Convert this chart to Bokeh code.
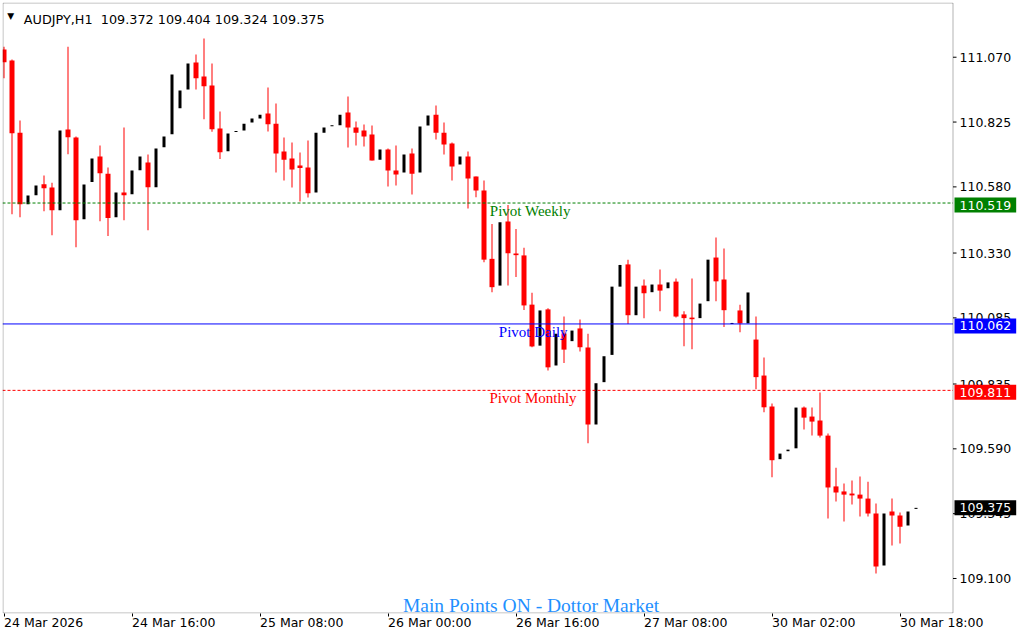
from bokeh.plotting import figure
from bokeh.models import Range1d, FixedTicker, Label, ColumnDataSource, BoxAnnotation
from bokeh.core.properties import value
from bokeh.embed import file_html
from bokeh.resources import INLINE

# ---------------- data ----------------
symbol = "AUDJPY,H1"
header_ohlc = ["109.372", "109.404", "109.324", "109.375"]

opens = [111.099, 111.058, 110.785, 110.514, 110.548, 110.590, 110.578, 110.492, 110.797, 110.767,
         110.458, 110.598, 110.695, 110.630, 110.465, 110.559, 110.552, 110.643, 110.672, 110.579,
         110.730, 110.779, 110.877, 110.948, 111.050, 110.997, 110.963, 110.801, 110.715, 110.787,
         110.793, 110.823, 110.838, 110.857, 110.819, 110.714, 110.687, 110.661, 110.653, 110.559,
         110.785, 110.809, 110.813, 110.861, 110.804, 110.793, 110.778, 110.683, 110.721, 110.642,
         110.634, 110.706, 110.634, 110.812, 110.853, 110.785, 110.744, 110.665, 110.695, 110.619,
         110.566, 110.308, 110.207, 110.449, 110.328, 110.321, 110.135, 109.980, 110.117, 109.905,
         110.026, 109.997, 110.045, 109.973, 109.682, 109.842, 109.945, 110.203, 110.287, 110.095,
         110.207, 110.182, 110.211, 110.197, 110.222, 110.098, 110.086, 110.084, 110.148, 110.313,
         110.230, 110.062, 110.113, 110.064, 110.003, 109.867, 109.750, 109.551, 109.581, 109.592,
         109.746, 109.712, 109.697, 109.640, 109.448, 109.429, 109.421, 109.417, 109.402, 109.346,
         109.149, 109.353, 109.338, 109.300, 109.363]
highs = [111.110, 111.061, 110.831, 110.547, 110.585, 110.623, 110.596, 110.793, 111.110, 110.770,
         110.589, 110.687, 110.736, 110.653, 110.559, 110.804, 110.642, 110.695, 110.702, 110.725,
         110.770, 111.005, 110.944, 111.046, 111.080, 111.141, 111.046, 110.865, 110.782, 110.790,
         110.819, 110.838, 110.853, 110.956, 110.895, 110.767, 110.748, 110.710, 110.755, 110.785,
         110.804, 110.813, 110.853, 110.922, 110.827, 110.816, 110.812, 110.721, 110.725, 110.736,
         110.702, 110.725, 110.808, 110.850, 110.888, 110.823, 110.748, 110.695, 110.714, 110.619,
         110.604, 110.440, 110.446, 110.512, 110.421, 110.350, 110.180, 110.113, 110.121, 110.025,
         110.090, 110.037, 110.079, 110.025, 109.838, 109.940, 110.203, 110.285, 110.305, 110.203,
         110.230, 110.211, 110.268, 110.219, 110.234, 110.110, 110.234, 110.139, 110.305, 110.389,
         110.347, 110.064, 110.135, 110.181, 110.090, 109.935, 109.761, 109.572, 109.587, 109.746,
         109.750, 109.746, 109.803, 109.648, 109.519, 109.459, 109.470, 109.485, 109.466, 109.383,
         109.346, 109.402, 109.349, 109.353, 109.367]
lows = [110.991, 110.477, 110.465, 110.514, 110.548, 110.488, 110.397, 110.492, 110.703, 110.352,
        110.458, 110.598, 110.450, 110.394, 110.465, 110.454, 110.552, 110.643, 110.416, 110.579,
        110.730, 110.779, 110.877, 110.948, 110.948, 110.836, 110.788, 110.685, 110.715, 110.787,
        110.793, 110.823, 110.838, 110.789, 110.634, 110.604, 110.578, 110.525, 110.540, 110.559,
        110.785, 110.809, 110.813, 110.729, 110.736, 110.733, 110.680, 110.683, 110.581, 110.585,
        110.634, 110.551, 110.634, 110.812, 110.759, 110.702, 110.604, 110.665, 110.498, 110.541,
        110.295, 110.182, 110.207, 110.207, 110.239, 110.115, 109.974, 109.980, 109.886, 109.905,
        109.914, 109.997, 109.958, 109.611, 109.682, 109.842, 109.945, 110.203, 110.062, 110.095,
        110.084, 110.182, 110.110, 110.197, 110.086, 109.978, 109.966, 110.084, 110.148, 110.148,
        110.050, 110.062, 110.031, 110.064, 109.815, 109.728, 109.483, 109.551, 109.581, 109.592,
        109.663, 109.640, 109.633, 109.327, 109.391, 109.315, 109.380, 109.334, 109.334, 109.119,
        109.149, 109.225, 109.232, 109.300, 109.363]
closes = [111.051, 110.783, 110.514, 110.547, 110.585, 110.575, 110.492, 110.793, 110.768, 110.454,
          110.589, 110.687, 110.632, 110.462, 110.559, 110.548, 110.642, 110.695, 110.579, 110.725,
          110.770, 111.005, 110.944, 111.046, 110.991, 110.960, 110.798, 110.711, 110.782, 110.790,
          110.819, 110.838, 110.853, 110.817, 110.706, 110.683, 110.646, 110.651, 110.556, 110.785,
          110.804, 110.813, 110.853, 110.804, 110.785, 110.770, 110.680, 110.721, 110.642, 110.627,
          110.702, 110.630, 110.808, 110.850, 110.785, 110.740, 110.657, 110.695, 110.612, 110.566,
          110.305, 110.201, 110.446, 110.329, 110.322, 110.132, 109.977, 110.113, 109.898, 110.025,
          109.965, 110.037, 109.974, 109.682, 109.838, 109.940, 110.203, 110.285, 110.095, 110.203,
          110.178, 110.211, 110.188, 110.219, 110.090, 110.084, 110.080, 110.139, 110.305, 110.223,
          110.114, 110.064, 110.064, 110.181, 109.861, 109.747, 109.547, 109.572, 109.587, 109.746,
          109.708, 109.693, 109.640, 109.444, 109.425, 109.417, 109.414, 109.402, 109.346, 109.145,
          109.346, 109.338, 109.296, 109.353, 109.367]

price_ticks = [111.070, 110.825, 110.580, 110.330, 110.085, 109.835, 109.590, 109.345, 109.100]
time_tick_index = [0, 16, 32, 48, 64, 80, 96, 112]
time_tick_labels = ["24 Mar 2026", "24 Mar 16:00", "25 Mar 08:00", "26 Mar 00:00",
                    "26 Mar 16:00", "27 Mar 08:00", "30 Mar 02:00", "30 Mar 18:00"]

pivot_names = ["Pivot Weekly", "Pivot Daily", "Pivot Monthly"]
pivot_values = [110.519, 110.062, 109.811]
current_price = 109.375
footer_text = "Main Points ON - Dottor Market"

# ---------------- layout / style ----------------
W, H = 1024, 640
BL, BT, BR, BB = 2, 2, 0, 27
FRAME_W, FRAME_H = W - BL - BR, H - BT - BB
BAR_PX = 8.0
PX_PER_UNIT = 264.6
FIRST_BAR_PX = 3.5
CHART_RIGHT_PX = 952.5
CHART_BOTTOM_PX = 612.5
XS = (BL - FIRST_BAR_PX) / BAR_PX
XE = XS + FRAME_W / BAR_PX
YMIN = 108.9677
YMAX = YMIN + FRAME_H / PX_PER_UNIT


def dx(px):
    return XS + (px - BL) / BAR_PX


def dy(py):
    return YMAX - (py - BT) / PX_PER_UNIT


pivot_colors = ["#008000", "#0000FF", "#FF0000"]
pivot_dash = ["3 2", "solid", "3 2"]
pivot_label_px = [489.3, 498.3, 489.0]
UI_FONT = "DejaVu Sans"
UI_SIZE = "12.5px"

idx = list(range(len(opens)))
min_body = 1.0 / PX_PER_UNIT
red = dict(x=[], top=[], bottom=[], hi=[], lo=[])
blk = dict(x=[], top=[], bottom=[])
for i, o, h, l, c in zip(idx, opens, highs, lows, closes):
    if c < o:
        red["x"].append(i)
        red["top"].append(o)
        red["bottom"].append(min(c, o - min_body))
        red["hi"].append(h)
        red["lo"].append(l)
    else:
        blk["x"].append(i)
        blk["top"].append(max(h, c, l + min_body))
        blk["bottom"].append(min(l, o))

p = figure(width=W, height=H, x_range=Range1d(XS, XE), y_range=Range1d(YMIN, YMAX),
           output_backend="svg", toolbar_location=None, y_axis_location=None,
           min_border_left=BL, min_border_right=BR, min_border_top=BT, min_border_bottom=BB,
           background_fill_color="white", border_fill_color="white",
           outline_line_color=None)
p.grid.visible = False

# x axis: ticks and left-aligned labels
p.xaxis.ticker = FixedTicker(ticks=time_tick_index)
p.xaxis.major_label_overrides = {k: lab for k, lab in zip(time_tick_index, time_tick_labels)}
p.xaxis.major_label_orientation = -0.0001
p.xaxis.major_tick_out = 3
p.xaxis.major_tick_in = 0
p.xaxis.minor_tick_line_color = None
p.xaxis.axis_line_color = None
p.xaxis.major_tick_line_color = "black"
p.xaxis.major_label_standoff = 6
p.xaxis.major_label_text_font = UI_FONT
p.xaxis.major_label_text_font_size = UI_SIZE
p.xaxis.major_label_text_color = "black"

# chart border
p.add_layout(BoxAnnotation(left=dx(BL + 0.5), right=dx(CHART_RIGHT_PX), top=dy(BT + 0.5),
                           bottom=dy(CHART_BOTTOM_PX), fill_alpha=0, line_color="black",
                           line_width=1, level="overlay"))

# candles
rs = ColumnDataSource(red)
bs = ColumnDataSource(blk)
p.vbar(x="x", width=1 / BAR_PX, top="hi", bottom="lo", source=rs, fill_color="#FF0000", line_color=None)
p.vbar(x="x", width=5 / BAR_PX, top="top", bottom="bottom", source=rs,
       fill_color="#FF0000", line_color=None)
p.vbar(x="x", width=3 / BAR_PX, top="top", bottom="bottom", source=bs,
       fill_color="black", line_color=None)

# price scale on the right
p.segment(x0=[dx(CHART_RIGHT_PX)] * len(price_ticks), x1=[dx(CHART_RIGHT_PX + 3.5)] * len(price_ticks),
          y0=price_ticks, y1=price_ticks, line_color="black", line_width=1)
p.text(x=[dx(959)] * len(price_ticks), y=price_ticks, text=[f"{t:.3f}" for t in price_ticks],
       text_align="left", text_baseline="middle", text_font=value(UI_FONT),
       text_font_size=UI_SIZE, text_color="black")

# pivot lines and labels
for name, val, col, dash, lx in zip(pivot_names, pivot_values, pivot_colors, pivot_dash, pivot_label_px):
    p.segment(x0=[dx(BL)], x1=[dx(CHART_RIGHT_PX)], y0=[val], y1=[val],
              line_color=col, line_width=1, line_dash=dash)
    p.add_layout(Label(x=dx(lx), y=val, text=name, text_align="left", text_baseline="top",
                       text_font="Liberation Serif", text_font_size="15px", text_color=col))

# price boxes on the scale
box_vals = pivot_values + [current_price]
box_cols = pivot_colors + ["#000000"]
for val, col in zip(box_vals, box_cols):
    p.add_layout(Label(x=dx(954), y=val - 2.0 / PX_PER_UNIT, text=f"{val:.3f}",
                       text_align="left", text_baseline="middle",
                       text_font=UI_FONT, text_font_size=UI_SIZE, text_color="white",
                       background_fill_color=col, background_fill_alpha=1.0,
                       padding=dict(left=5, right=5, top=3, bottom=3)))

# header
p.add_layout(Label(x=dx(10.3), y=dy(15), text="\u25BC", text_align="center",
                   text_baseline="middle", text_font=UI_FONT, text_font_size="9px",
                   text_color="black"))
p.add_layout(Label(x=dx(23.3), y=dy(19), text=symbol + "\u00a0 " + " ".join(header_ohlc),
                   text_align="left", text_baseline="alphabetic", text_font=UI_FONT,
                   text_font_size="12.8px", text_color="black"))

# footer text
p.add_layout(Label(x=dx(530.5), y=dy(605), text=footer_text, text_align="center",
                   text_baseline="alphabetic", text_font="Liberation Serif",
                   text_font_size="19.5px", text_color="#1E90FF"))

open("out.html", "w").write(file_html(p, INLINE))
